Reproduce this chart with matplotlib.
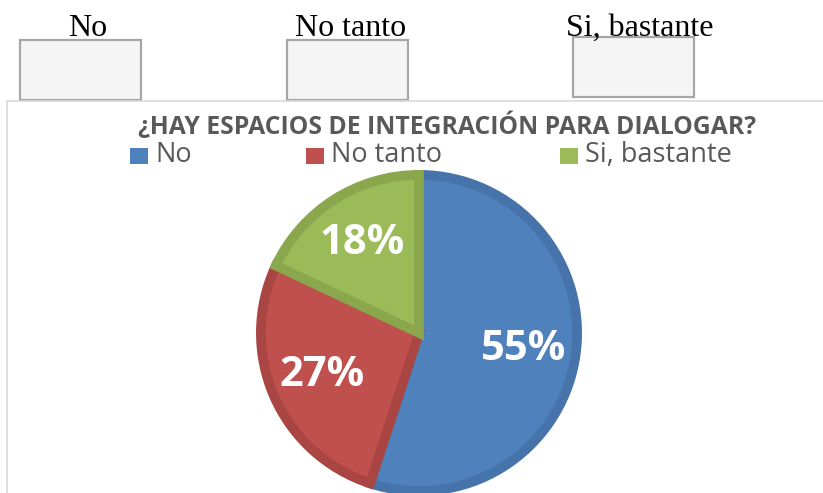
import matplotlib.pyplot as plt
from matplotlib.patches import Rectangle

# data
categories = ['No', 'No tanto', 'Si, bastante']
values = [55, 27, 18]
colors = ['#4F81BD', '#C0504D', '#9BBB59']
edge_colors = ['#4673AA', '#A94643', '#8AA74E']
title = '¿HAY ESPACIOS DE INTEGRACIÓN PARA DIALOGAR?'

W, H = 823, 493
fig = plt.figure(figsize=(W / 100, H / 100), dpi=100)
fig.patch.set_facecolor('white')


def px(x, y):
    # pixel coords (top-left origin) -> figure fraction
    return x / W, 1 - y / H


# checkbox labels and empty boxes above the chart
box_x = [20, 287, 573]
box_y = [40, 40, 37]
label_x = [88, 351, 640]
for lab, lx, bx, by in zip(categories, label_x, box_x, box_y):
    fig.text(*px(lx, 28), lab, ha='center', va='center', fontsize=23,
             family='Liberation Serif', color='black')
    x0, y0 = px(bx, by + 60)
    fig.patches.append(Rectangle((x0, y0), 121 / W, 60 / H, transform=fig.transFigure,
                                 facecolor='#F5F5F5', edgecolor='#A6A6A6', linewidth=1.6,
                                 zorder=0))

# chart frame
x0, y0 = px(7, 520)
fig.patches.append(Rectangle((x0, y0), 900 / W, 419 / H, transform=fig.transFigure,
                             facecolor='none', edgecolor='#D9D9D9', linewidth=1.2, zorder=0))

# title
fig.text(*px(447, 126), title, ha='center', va='center', fontsize=17.8,
         fontweight='bold', family='Open Sans', color='#595959')

# legend
leg_sq = [130, 306, 560]
for lab, c, sx in zip(categories, colors, leg_sq):
    x0, y0 = px(sx, 164)
    fig.patches.append(Rectangle((x0, y0), 18 / W, 16 / H, transform=fig.transFigure,
                                 facecolor=c, edgecolor='none'))
    fig.text(*px(sx + 25, 155), lab, ha='left', va='center', fontsize=19.5,
             family='Open Sans', color='#595959')

# pie
cx, cy, r = 419, 333, 163
ax = fig.add_axes([(cx - r) / W, (H - cy - r) / H, 2 * r / W, 2 * r / H])
ax.set_zorder(5)
wedges, texts, autotexts = ax.pie(values, colors=colors, startangle=90, counterclock=False,
                                  radius=0.97, autopct='%1.0f%%', pctdistance=0.67,
                                  wedgeprops=dict(linewidth=7, joinstyle='miter'),
                                  textprops=dict(color='white', fontsize=30,
                                                 fontweight='bold', family='Open Sans'))
for w, ec in zip(wedges, edge_colors):
    w.set_edgecolor(ec)
    w.set_clip_on(False)
ax.set_xlim(-1, 1)
ax.set_ylim(-1, 1)
ax.axis('off')

fig.savefig('out.png', dpi=100)
